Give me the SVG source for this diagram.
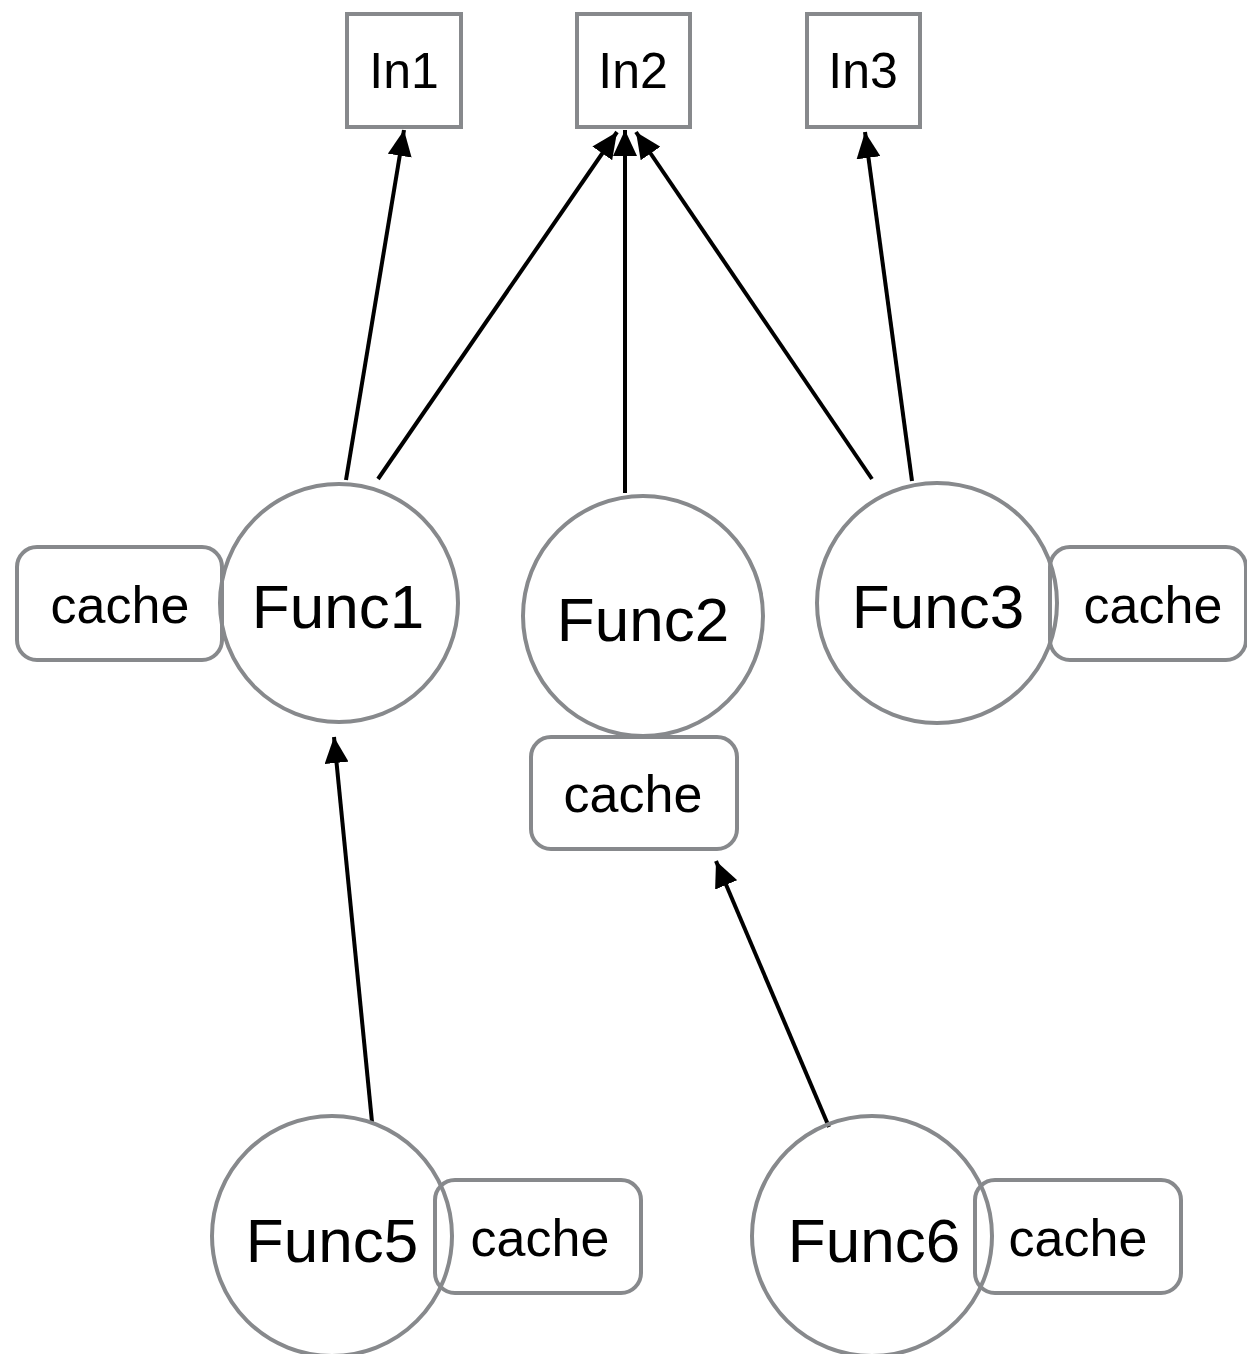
<svg xmlns="http://www.w3.org/2000/svg" width="1247" height="1354" viewBox="0 0 1247 1354">
<style>
.box{fill:none;stroke:#87898c;stroke-width:4}
.cache{fill:none;stroke:#87898c;stroke-width:4}
.circ{fill:none;stroke:#87898c;stroke-width:4}
.lbl{font-family:"Liberation Sans",Arial,sans-serif;fill:#000;text-anchor:middle}
.in{font-size:50px}
.fn{font-size:62px}
.ca{font-size:52px}
.edge{stroke:#000;stroke-width:4;fill:none;marker-end:url(#arr)}
</style>
<defs>
<marker id="arr" markerUnits="userSpaceOnUse" markerWidth="30" markerHeight="24" refX="26" refY="12" orient="auto">
<path d="M0,0 L26,12 L0,24 Z" fill="#000"/>
</marker>
</defs>
<rect width="1247" height="1354" fill="#fff"/>
<g id="edges">
<line class="edge" x1="346" y1="480" x2="404" y2="130"/>
<line class="edge" x1="378" y1="479" x2="617" y2="132"/>
<line class="edge" x1="625" y1="493" x2="625" y2="130"/>
<line class="edge" x1="872" y1="479" x2="636" y2="132"/>
<line class="edge" x1="912" y1="481" x2="865" y2="132"/>
<line class="edge" x1="372" y1="1122" x2="334" y2="737"/>
<line class="edge" x1="829" y1="1127" x2="716" y2="861"/>
</g>
<g id="In1"><rect class="box" x="347" y="14" width="114" height="113"/><text class="lbl in" x="404" y="88">In1</text></g>
<g id="In2"><rect class="box" x="577" y="14" width="113" height="113"/><text class="lbl in" x="633" y="88">In2</text></g>
<g id="In3"><rect class="box" x="807" y="14" width="113" height="113"/><text class="lbl in" x="863" y="88">In3</text></g>
<g id="Func1"><circle class="circ" cx="339" cy="603" r="119"/><text class="lbl fn" x="338" y="628">Func1</text></g>
<g id="Func1cache"><rect class="cache" x="17" y="547" width="205" height="113" rx="20"/><text class="lbl ca" x="120" y="623">cache</text></g>
<g id="Func2"><circle class="circ" cx="643" cy="616" r="120"/><text class="lbl fn" x="643" y="641">Func2</text></g>
<g id="Func2cache"><rect class="cache" x="531" y="737" width="206" height="112" rx="20"/><text class="lbl ca" x="633" y="812">cache</text></g>
<g id="Func3"><circle class="circ" cx="937" cy="603" r="120"/><text class="lbl fn" x="938" y="628">Func3</text></g>
<g id="Func3cache"><rect class="cache" x="1050" y="547" width="196" height="113" rx="20"/><text class="lbl ca" x="1153" y="623">cache</text></g>
<g id="Func5"><circle class="circ" cx="332" cy="1236" r="120"/><text class="lbl fn" x="332" y="1262">Func5</text></g>
<g id="Func5cache"><rect class="cache" x="435" y="1180" width="206" height="113" rx="20"/><text class="lbl ca" x="540" y="1256">cache</text></g>
<g id="Func6"><circle class="circ" cx="872" cy="1236" r="120"/><text class="lbl fn" x="874" y="1262">Func6</text></g>
<g id="Func6cache"><rect class="cache" x="975" y="1180" width="206" height="113" rx="20"/><text class="lbl ca" x="1078" y="1256">cache</text></g>
</svg>
